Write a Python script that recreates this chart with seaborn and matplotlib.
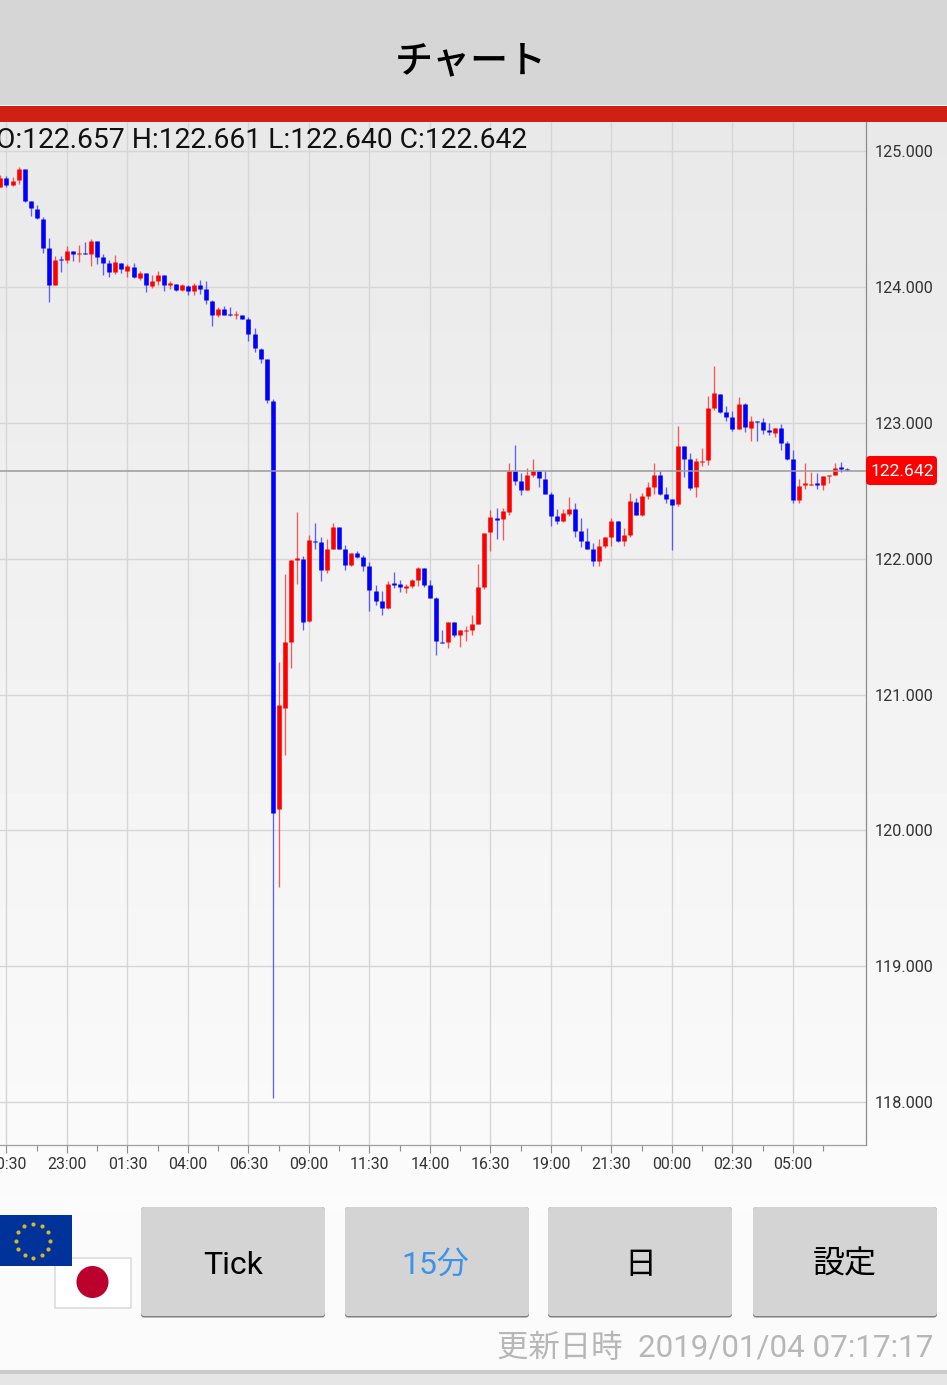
import numpy as np
import pandas as pd
import seaborn as sns
import matplotlib.pyplot as plt
from matplotlib.patches import Rectangle, FancyBboxPatch, Circle

# 15 minute EUR/JPY candles, first one is just before the 20:30 tick
opens = [124.741, 124.802, 124.753, 124.790, 124.869, 124.635, 124.577, 124.503, 124.287, 124.015,
         124.208, 124.201, 124.267, 124.243, 124.253, 124.248, 124.343, 124.223, 124.177, 124.110,
         124.181, 124.123, 124.150, 124.071, 124.103, 124.010, 124.046, 124.091, 124.015, 124.027,
         123.980, 124.012, 123.970, 124.019, 123.987, 123.902, 123.794, 123.838, 123.801, 123.794,
         123.799, 123.764, 123.656, 123.546, 123.470, 123.163, 120.158, 120.902, 121.388, 121.992,
         121.999, 121.543, 122.135, 122.124, 121.918, 122.073, 122.235, 122.073, 121.955, 122.046,
         122.014, 121.948, 121.766, 121.690, 121.638, 121.819, 121.817, 121.788, 121.800, 121.844,
         121.933, 121.808, 121.712, 121.390, 121.390, 121.536, 121.442, 121.469, 121.476, 121.521,
         121.793, 122.198, 122.299, 122.294, 122.348, 122.647, 122.574, 122.510, 122.618, 122.647,
         122.591, 122.478, 122.318, 122.279, 122.331, 122.370, 122.208, 122.132, 122.073, 121.987,
         122.093, 122.161, 122.279, 122.132, 122.176, 122.421, 122.323, 122.465, 122.530, 122.618,
         122.480, 122.441, 122.404, 122.831, 122.736, 122.530, 122.716, 122.728, 123.111, 123.214,
         123.082, 123.045, 122.957, 123.141, 122.966, 123.015, 123.008, 122.949, 122.927, 122.964,
         122.853, 122.736, 122.434, 122.544, 122.544, 122.559, 122.544, 122.613, 122.618, 122.677,
         122.662]
highs = [124.827, 124.820, 124.810, 124.886, 124.869, 124.635, 124.604, 124.518, 124.363, 124.233,
         124.231, 124.304, 124.267, 124.309, 124.334, 124.353, 124.343, 124.243, 124.201, 124.240,
         124.181, 124.174, 124.181, 124.118, 124.103, 124.091, 124.120, 124.091, 124.046, 124.027,
         124.027, 124.017, 124.032, 124.054, 124.044, 123.907, 123.857, 123.862, 123.857, 123.823,
         123.799, 123.779, 123.700, 123.553, 123.474, 123.177, 121.241, 121.889, 121.992, 122.345,
         122.021, 122.176, 122.266, 122.161, 122.146, 122.266, 122.235, 122.102, 122.046, 122.058,
         122.029, 121.977, 121.808, 121.766, 121.837, 121.903, 121.844, 121.815, 121.852, 121.940,
         121.933, 121.844, 121.719, 121.476, 121.536, 121.536, 121.476, 121.506, 121.587, 121.962,
         122.191, 122.360, 122.375, 122.375, 122.706, 122.839, 122.635, 122.669, 122.736, 122.647,
         122.647, 122.493, 122.367, 122.367, 122.458, 122.412, 122.301, 122.227, 122.117, 122.146,
         122.161, 122.301, 122.279, 122.227, 122.485, 122.451, 122.487, 122.566, 122.706, 122.647,
         122.532, 122.441, 122.981, 122.831, 122.780, 122.743, 122.819, 123.202, 123.421, 123.214,
         123.126, 123.089, 123.192, 123.148, 123.052, 123.015, 123.037, 123.001, 122.964, 122.993,
         122.868, 122.802, 122.588, 122.706, 122.640, 122.632, 122.610, 122.620, 122.706, 122.713,
         122.669]
lows = [124.741, 124.741, 124.748, 124.761, 124.631, 124.525, 124.505, 124.255, 123.889, 124.015,
        124.113, 124.181, 124.194, 124.189, 124.245, 124.157, 124.172, 124.093, 124.073, 124.098,
        124.108, 124.073, 124.069, 124.054, 123.968, 123.997, 124.015, 123.975, 123.987, 123.975,
        123.975, 123.943, 123.943, 123.951, 123.880, 123.715, 123.784, 123.794, 123.789, 123.767,
        123.764, 123.607, 123.526, 123.440, 123.150, 118.030, 119.584, 120.556, 121.197, 121.815,
        121.476, 121.536, 122.075, 121.839, 121.898, 122.073, 122.073, 121.918, 121.948, 122.007,
        121.911, 121.618, 121.660, 121.587, 121.633, 121.786, 121.756, 121.749, 121.786, 121.800,
        121.795, 121.712, 121.292, 121.380, 121.344, 121.427, 121.351, 121.395, 121.439, 121.521,
        121.778, 122.058, 122.146, 122.141, 122.323, 122.544, 122.473, 122.510, 122.605, 122.532,
        122.478, 122.242, 122.259, 122.272, 122.316, 122.163, 122.090, 122.073, 121.948, 121.948,
        122.080, 122.095, 122.122, 122.097, 122.161, 122.325, 122.318, 122.443, 122.480, 122.473,
        122.412, 122.066, 122.392, 122.605, 122.507, 122.458, 122.684, 122.691, 123.096, 123.074,
        123.015, 122.942, 122.957, 122.934, 122.868, 122.868, 122.920, 122.912, 122.898, 122.802,
        122.728, 122.412, 122.412, 122.515, 122.544, 122.515, 122.507, 122.559, 122.618, 122.640,
        122.655]
closes = [124.802, 124.753, 124.785, 124.869, 124.638, 124.581, 124.508, 124.287, 124.015, 124.201,
          124.204, 124.267, 124.243, 124.253, 124.248, 124.343, 124.223, 124.177, 124.113, 124.184,
          124.132, 124.157, 124.073, 124.105, 124.019, 124.044, 124.091, 124.015, 124.029, 123.980,
          124.019, 123.970, 124.017, 123.987, 123.904, 123.799, 123.838, 123.799, 123.794, 123.801,
          123.767, 123.659, 123.553, 123.470, 123.170, 120.129, 120.924, 121.388, 121.992, 122.003,
          121.536, 122.139, 122.127, 121.918, 122.073, 122.235, 122.073, 121.955, 122.046, 122.014,
          121.948, 121.773, 121.690, 121.638, 121.817, 121.808, 121.793, 121.800, 121.844, 121.933,
          121.808, 121.712, 121.395, 121.383, 121.536, 121.442, 121.476, 121.476, 121.521, 121.793,
          122.191, 122.306, 122.289, 122.353, 122.647, 122.576, 122.510, 122.618, 122.647, 122.596,
          122.478, 122.318, 122.279, 122.338, 122.370, 122.208, 122.132, 122.073, 121.987, 122.095,
          122.161, 122.279, 122.132, 122.176, 122.429, 122.325, 122.465, 122.532, 122.618, 122.480,
          122.443, 122.397, 122.831, 122.736, 122.524, 122.721, 122.721, 123.111, 123.222, 123.082,
          123.045, 122.957, 123.141, 122.971, 123.015, 123.008, 122.949, 122.934, 122.964, 122.853,
          122.736, 122.434, 122.537, 122.559, 122.552, 122.546, 122.610, 122.620, 122.669, 122.662,
          122.655]

time_labels = ['20:30', '23:00', '01:30', '04:00', '06:30', '09:00', '11:30', '14:00',
               '16:30', '19:00', '21:30', '00:00', '02:30', '05:00']
price_ticks = [118, 119, 120, 121, 122, 123, 124, 125]
price_minor = [118.5, 119.5, 120.5, 121.5, 122.5, 123.5, 124.5]
line_price = 122.648
last_label = '122.642'
ohlc_text = 'O:122.657 H:122.661 L:122.640 C:122.642'
button_labels = ['Tick', '15分', '日', '設定']
update_text = '更新日時  2019/01/04 07:17:17'

W, H = 947, 1385
sns.set_theme(style='white')
plt.rcParams['font.family'] = ['Roboto', 'Noto Sans CJK JP', 'DejaVu Sans']

# candles go in long form, two rows per line
df = pd.DataFrame({'i': np.arange(-1, len(opens) - 1), 'o': opens, 'h': highs, 'l': lows, 'c': closes})
df['dir'] = np.where(df.c >= df.o, 'up', 'down')
wicks = df.melt(id_vars=['i', 'dir'], value_vars=['h', 'l'], value_name='price')
bodies = df.melt(id_vars=['i', 'dir'], value_vars=['o', 'c'], value_name='price')
colors = {'up': '#ff0000', 'down': '#0000ff'}
wick_colors = {'up': '#ff3030', 'down': '#3a3aff'}

fig = plt.figure(figsize=(W / 100, H / 100), dpi=100)


def px_axes(left, top, right, bottom):
    return fig.add_axes([left / W, 1 - bottom / H, (right - left) / W, (bottom - top) / H])


# page background gradient
bg = px_axes(0, 0, W, H)
shade = np.linspace(0.912, 0.985, 256).reshape(-1, 1)
bg.imshow(shade, cmap='gray', vmin=0, vmax=1, aspect='auto', extent=[0, W, 1210, 122])
bg.set_xlim(0, W)
bg.set_ylim(H, 0)
bg.set_facecolor('#fbfbfb')
bg.axis('off')
bg.add_patch(Rectangle((0, 1210), W, H - 1210, color='#fbfbfb', lw=0))

# chart
ax = px_axes(0, 122, 866, 1145)
ax.patch.set_alpha(0)
sns.lineplot(data=wicks, x='i', y='price', units='i', hue='dir', palette=wick_colors, estimator=None,
             errorbar=None, legend=False, linewidth=0.95, alpha=0.8, solid_capstyle='butt', ax=ax, zorder=3)
sns.lineplot(data=bodies, x='i', y='price', units='i', hue='dir', palette=colors, estimator=None,
             errorbar=None, legend=False, linewidth=3.3, solid_capstyle='butt', ax=ax, zorder=4)
ax.axhline(line_price, color='#9a9a9a', lw=1.1, zorder=5)

ax.set_xlim(-1.074, 142.07)
ax.set_ylim(117.684, 125.217)
ax.set_xticks(np.arange(len(time_labels)) * 10)
ax.set_xticklabels(time_labels)
ax.set_xticks(np.arange(len(time_labels)) * 10 + 5, minor=True)
ax.set_yticks(price_ticks)
ax.set_yticklabels([f'{p:.3f}' for p in price_ticks])
ax.set_yticks(price_minor, minor=True)
ax.yaxis.tick_right()
ax.set_xlabel('')
ax.set_ylabel('')
ax.grid(True, which='major', color='#d6d6d6', lw=1.0, zorder=1)
ax.set_axisbelow(True)
ax.tick_params(axis='x', which='major', length=6, width=0.8, color='#8c8c8c', labelsize=11.4,
               labelcolor='#333333', pad=2.4, bottom=True)
ax.tick_params(axis='x', which='minor', length=4, width=0.8, color='#8c8c8c', bottom=True)
ax.tick_params(axis='y', which='major', length=6, width=0.8, color='#8c8c8c', labelsize=11.7,
               labelcolor='#333333', pad=0.6, right=True)
ax.tick_params(axis='y', which='minor', length=4, width=0.8, color='#8c8c8c', right=True)
sns.despine(ax=ax, top=True, left=True, right=False, bottom=False)
ax.spines['right'].set_color('#8c8c8c')
ax.spines['bottom'].set_color('#a0a0a0')
ax.spines['right'].set_linewidth(0.9)
ax.spines['bottom'].set_linewidth(0.9)

# app chrome on top, drawn in pixel coordinates
ui = px_axes(0, 0, W, H)
ui.set_xlim(0, W)
ui.set_ylim(H, 0)
ui.axis('off')
ui.patch.set_alpha(0)

ui.add_patch(Rectangle((0, 0), W, 105, color='#d6d6d6', lw=0))
ui.add_patch(Rectangle((0, 106), W, 16, color='#cf2013', lw=0))
ui.text(471, 61, 'チャート', fontsize=27.4, ha='center', va='center', color='#000000',
        family=['Noto Sans CJK JP'], fontweight='medium')
ui.text(-4, 140, ohlc_text, fontsize=20.3, ha='left', va='center', color='#111111')

ui.add_patch(FancyBboxPatch((868, 458), 67, 25, boxstyle='round,pad=2,rounding_size=4', color='#ff0000', lw=0))
ui.text(902, 471, last_label, fontsize=12.6, color='white', ha='center', va='center')

# flags
ui.add_patch(Rectangle((55, 1258), 76, 50, facecolor='white', edgecolor='#dddddd', lw=1.2))
ui.add_patch(Circle((92.5, 1282), 16, color='#bc002d', lw=0))
ui.add_patch(Rectangle((0, 1215), 72, 51, color='#003399', lw=0))
angles = np.arange(12) * np.pi / 6
ui.scatter(33 + 17 * np.cos(angles), 1240.5 + 17 * np.sin(angles), s=9, color='#d9b526', lw=0)

# buttons
button_left = [141, 345, 548, 753]
button_color = ['#000000', '#3d93ea', '#000000', '#000000']
button_text_x = [233, 435, 640, 845]
for left, label, col, tx in zip(button_left, button_labels, button_color, button_text_x):
    ui.add_patch(FancyBboxPatch((left + 2, 1209), 180, 106.5, boxstyle='round,pad=2,rounding_size=3',
                                color='#7d7d7d', lw=0))
    ui.add_patch(FancyBboxPatch((left + 2, 1209), 180, 105, boxstyle='round,pad=2,rounding_size=3',
                                color='#d4d4d4', lw=0))
    ui.text(tx, 1265, label, fontsize=23, color=col, ha='center', va='center')

ui.text(933, 1348, update_text, fontsize=22.6, color='#b7b7b7', ha='right', va='center')
ui.add_patch(Rectangle((0, 1370), W, 4, color='#cbcbcb', lw=0))
ui.add_patch(Rectangle((0, 1374), W, 11, color='#e6e6e6', lw=0))

plt.savefig('out.png', dpi=100)
